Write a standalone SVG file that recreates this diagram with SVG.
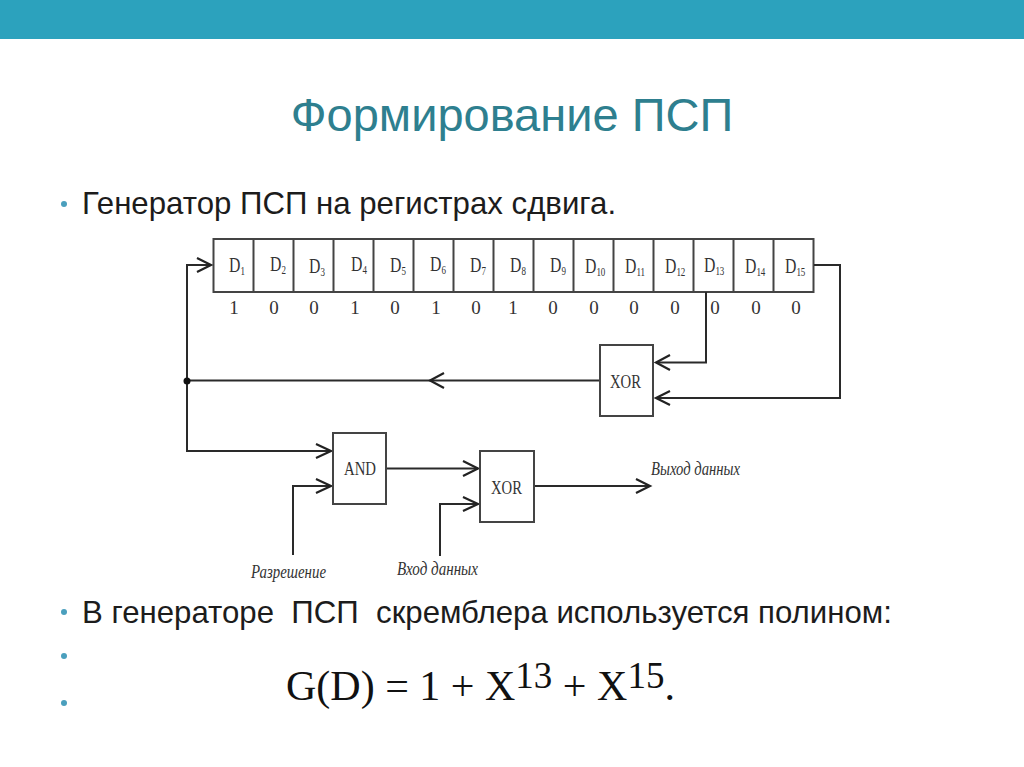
<svg xmlns="http://www.w3.org/2000/svg" width="1024" height="767" viewBox="0 0 1024 767">
<style>
.t{font-family:"Liberation Serif",serif;fill:#333}
.d{font-size:21px}
.v{font-size:19px;text-anchor:middle}
.s{font-size:12px}
.g{font-size:19px}
.i{font-size:18px;font-style:italic}
.b{font-family:"Liberation Sans",sans-serif;font-size:31.200px;fill:#1c1c1c}
.box{fill:#fff;stroke:#444;stroke-width:2}
.w{fill:none;stroke:#2a2a2a;stroke-width:2}
.h{fill:none;stroke:#222;stroke-width:2.2}
.bu{fill:#4a9fbd}
</style>
<rect width="1024" height="767" fill="#fff"/>
<rect width="1024" height="39" fill="#2ca2bd"/>
<text x="512" y="131" font-family="Liberation Sans,sans-serif" font-size="47" fill="#2e7f8f" text-anchor="middle">Формирование ПСП</text>
<circle class="bu" cx="64" cy="204" r="3"/>
<text class="b" x="82" y="214">Генератор ПСП на регистрах сдвига.</text>
<g id="register">
<rect class="box" x="213.500" y="239" width="600" height="53"/>
<path class="box" d="M253.500 239V292M293.500 239V292M333.500 239V292M373.500 239V292M413.500 239V292M453.500 239V292M493.500 239V292M533.500 239V292M573.500 239V292M613.500 239V292M653.500 239V292M693.500 239V292M733.500 239V292M773.500 239V292"/>
<g class="t d">
<text transform="matrix(.75 0 0 1 229 272)">D<tspan class="s" dy="3">1</tspan></text>
<text transform="matrix(.75 0 0 1 270 271)">D<tspan class="s" dy="3">2</tspan></text>
<text transform="matrix(.75 0 0 1 309 273)">D<tspan class="s" dy="3">3</tspan></text>
<text transform="matrix(.75 0 0 1 351 271)">D<tspan class="s" dy="3">4</tspan></text>
<text transform="matrix(.75 0 0 1 390 272)">D<tspan class="s" dy="3">5</tspan></text>
<text transform="matrix(.75 0 0 1 430 271)">D<tspan class="s" dy="3">6</tspan></text>
<text transform="matrix(.75 0 0 1 470 272)">D<tspan class="s" dy="3">7</tspan></text>
<text transform="matrix(.75 0 0 1 510 272)">D<tspan class="s" dy="3">8</tspan></text>
<text transform="matrix(.75 0 0 1 550 272)">D<tspan class="s" dy="3">9</tspan></text>
<text transform="matrix(.75 0 0 1 585 273)">D<tspan class="s" dy="3">10</tspan></text>
<text transform="matrix(.75 0 0 1 625 273)">D<tspan class="s" dy="3">11</tspan></text>
<text transform="matrix(.75 0 0 1 665 273)">D<tspan class="s" dy="3">12</tspan></text>
<text transform="matrix(.75 0 0 1 704 272)">D<tspan class="s" dy="3">13</tspan></text>
<text transform="matrix(.75 0 0 1 745 273)">D<tspan class="s" dy="3">14</tspan></text>
<text transform="matrix(.75 0 0 1 785 273)">D<tspan class="s" dy="3">15</tspan></text>
</g>
<g class="t v">
<text x="234" y="314">1</text><text x="274" y="314">0</text><text x="314" y="314">0</text><text x="355" y="314">1</text><text x="395" y="314">0</text><text x="436" y="314">1</text><text x="476" y="314">0</text><text x="513" y="314">1</text><text x="553" y="314">0</text><text x="594" y="314">0</text><text x="634" y="314">0</text><text x="675" y="314">0</text><text x="715" y="314">0</text><text x="756" y="314">0</text><text x="796" y="314">0</text>
</g>
</g>
<g id="connectors">
<path class="w" d="M187 381V265H211"/><path class="h" d="M197 258L211 265L197 272"/>
<path class="w" d="M187 381V451H331"/><path class="h" d="M316 444L331 451L316 458"/>
<path class="w" d="M187 380.500H600"/><path class="h" d="M444 373L430 380.500L444 388"/>
<circle cx="187" cy="381" r="3.500" fill="#111"/>
<path class="w" d="M706 292V362.500H657"/><path class="h" d="M670 355L656 362.500L670 370"/>
<path class="w" d="M814 265H840V398H657"/><path class="h" d="M670 391L656 398L670 405"/>
<path class="w" d="M293 555V486H331"/><path class="h" d="M316 479L331 486L316 493"/>
<path class="w" d="M386 468.500H478"/><path class="h" d="M463 461L478 468.500L463 476"/>
<path class="w" d="M440 556V504H478"/><path class="h" d="M463 497L478 504L463 511"/>
<path class="w" d="M533 486H650"/><path class="h" d="M636 479L650 486L636 493"/>
</g>
<g id="xor1"><rect class="box" x="600" y="345" width="53" height="71"/><text class="t g" x="610" y="388" textLength="31" lengthAdjust="spacingAndGlyphs">XOR</text></g>
<g id="and"><rect class="box" x="333" y="433" width="53" height="71"/><text class="t g" x="344" y="475" textLength="32" lengthAdjust="spacingAndGlyphs">AND</text></g>
<g id="xor2"><rect class="box" x="480" y="451" width="54" height="71"/><text class="t g" x="491" y="494" textLength="31" lengthAdjust="spacingAndGlyphs">XOR</text></g>
<text class="t i" x="651" y="475" textLength="89" lengthAdjust="spacingAndGlyphs">Выход данных</text>
<text class="t i" x="251" y="578" textLength="75" lengthAdjust="spacingAndGlyphs">Разрешение</text>
<text class="t i" x="397" y="575" textLength="81" lengthAdjust="spacingAndGlyphs">Вход данных</text>
<circle class="bu" cx="64" cy="612" r="3"/>
<text class="b" x="82" y="623" xml:space="preserve">В генераторе  ПСП  скремблера используется полином:</text>
<circle class="bu" cx="64" cy="656" r="3"/>
<circle class="bu" cx="64" cy="703" r="3"/>
<text x="286" y="700" font-family="Liberation Serif,serif" font-size="42" fill="#111">G(D) = 1 + X<tspan font-size="37" dy="-12">13</tspan><tspan dy="12"> + X</tspan><tspan font-size="37" dy="-12">15</tspan><tspan dy="12">.</tspan></text>
</svg>
